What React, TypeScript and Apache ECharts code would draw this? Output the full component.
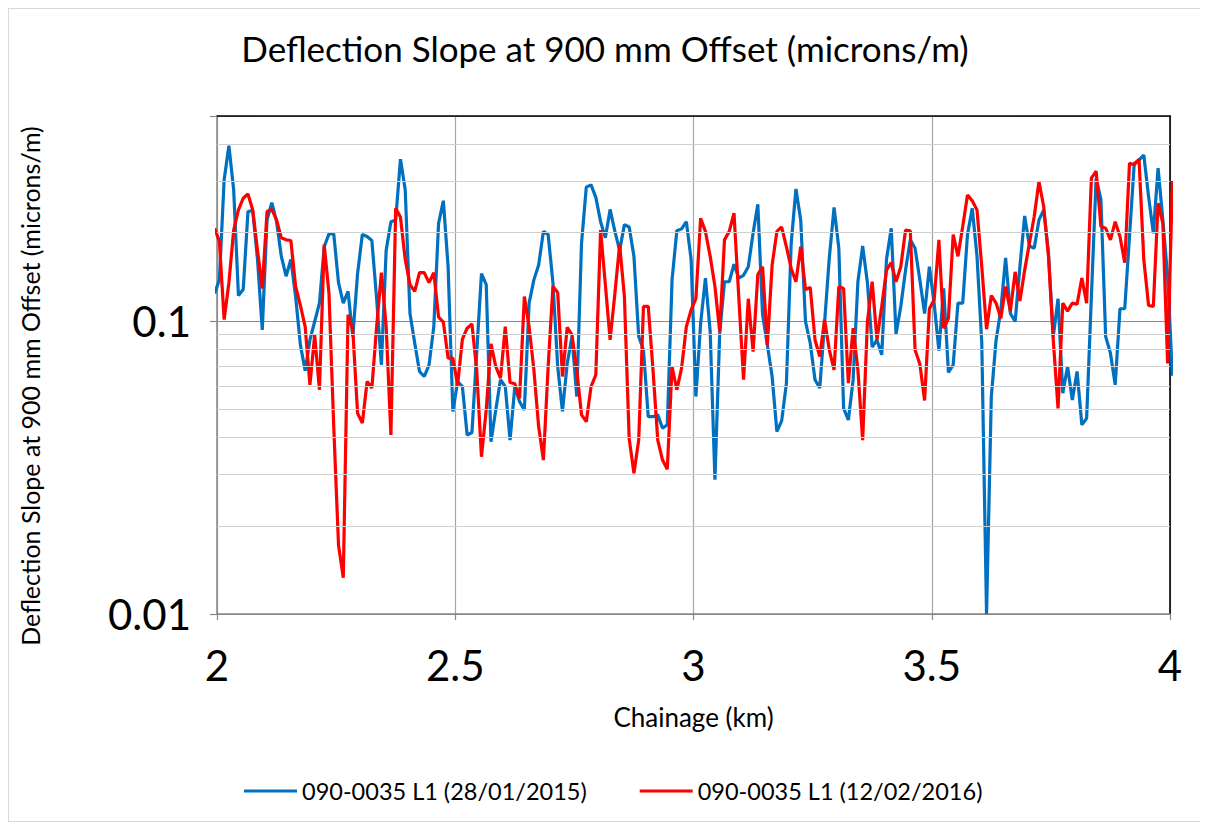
import React, { useEffect, useRef } from "react";
import * as echarts from "echarts";

const TITLE = "Deflection Slope at 900 mm Offset (microns/m)";
const Y_NAME = "Deflection Slope at 900 mm Offset (microns/m)";
const X_NAME = "Chainage (km)";
const SERIES_NAMES = ["090-0035 L1 (28/01/2015)", "090-0035 L1 (12/02/2016)"];

const X_MIN = 2;
const X_MAX = 4;
const X_INTERVAL = 0.5;
const Y_MIN = 0.01;
const Y_MAX = 0.5;
const yTickLabels = [0.01, 0.1];
const minorGridValues = [0.02, 0.03, 0.04, 0.05, 0.06, 0.07, 0.08, 0.09, 0.2, 0.3, 0.4];

// survey stations every 10 m (first and last fall just outside the plotted range)
const chainageStart = 1.995;
const chainageStep = 0.01;

const survey2015 = [
  0.124, 0.138, 0.303, 0.396, 0.280, 0.122, 0.128, 0.236, 0.238, 0.162,
  0.0932, 0.221, 0.253, 0.218, 0.166, 0.142, 0.162, 0.121, 0.0828, 0.0676,
  0.0861, 0.0995, 0.115, 0.179, 0.198, 0.198, 0.135, 0.115, 0.126, 0.0884,
  0.145, 0.197, 0.194, 0.188, 0.119, 0.0708, 0.174, 0.218, 0.221, 0.356,
  0.280, 0.106, 0.0839, 0.0672, 0.0646, 0.0708, 0.0956, 0.215, 0.257, 0.153,
  0.0491, 0.0621, 0.0597, 0.0408, 0.0416, 0.0776, 0.145, 0.133, 0.0387, 0.0497,
  0.0630, 0.0597, 0.0392, 0.0597, 0.0530, 0.0497, 0.115, 0.138, 0.155, 0.202,
  0.197, 0.135, 0.0699, 0.0491, 0.0716, 0.0884, 0.0552, 0.184, 0.286, 0.291,
  0.264, 0.218, 0.192, 0.240, 0.202, 0.174, 0.213, 0.209, 0.166, 0.0884,
  0.0796, 0.0471, 0.0471, 0.0478, 0.0430, 0.0442, 0.138, 0.203, 0.206, 0.218,
  0.162, 0.0552, 0.0982, 0.140, 0.0920, 0.0287, 0.0908, 0.136, 0.136, 0.156,
  0.140, 0.143, 0.153, 0.199, 0.250, 0.105, 0.0828, 0.0646, 0.0419, 0.0456,
  0.0613, 0.184, 0.282, 0.221, 0.0995, 0.0839, 0.0630, 0.0590, 0.0982, 0.164,
  0.244, 0.177, 0.0503, 0.0459, 0.0630, 0.136, 0.180, 0.135, 0.0813, 0.0861,
  0.0766, 0.162, 0.207, 0.0903, 0.112, 0.149, 0.189, 0.177, 0.138, 0.106,
  0.153, 0.115, 0.0792, 0.129, 0.0667, 0.0708, 0.115, 0.115, 0.197, 0.242,
  0.166, 0.0839, 0.0100, 0.0552, 0.0861, 0.109, 0.164, 0.106, 0.0995, 0.153,
  0.228, 0.180, 0.177, 0.221, 0.239, 0.170, 0.0884, 0.119, 0.0567, 0.0699,
  0.0537, 0.0672, 0.0442, 0.0465, 0.121, 0.307, 0.260, 0.0884, 0.0776, 0.0605,
  0.110, 0.110, 0.194, 0.345, 0.354, 0.368, 0.266, 0.199, 0.332, 0.221,
  0.142, 0.065,
];

const survey2016 = [
  0.207, 0.187, 0.101, 0.135, 0.204, 0.239, 0.262, 0.271, 0.239, 0.174,
  0.129, 0.236, 0.240, 0.221, 0.192, 0.189, 0.188, 0.131, 0.113, 0.0956,
  0.0605, 0.0896, 0.0582, 0.182, 0.124, 0.0436, 0.0172, 0.0133, 0.105, 0.0932,
  0.0484, 0.0448, 0.0621, 0.0590, 0.0956, 0.146, 0.0956, 0.0408, 0.242, 0.226,
  0.162, 0.133, 0.126, 0.146, 0.146, 0.135, 0.146, 0.103, 0.0990, 0.0746,
  0.0746, 0.0605, 0.0866, 0.0944, 0.0977, 0.0681, 0.0344, 0.0497, 0.0835, 0.0699,
  0.0638, 0.0956, 0.0616, 0.0610, 0.0545, 0.121, 0.0956, 0.0681, 0.0436, 0.0335,
  0.0699, 0.131, 0.125, 0.0646, 0.0951, 0.0896, 0.0681, 0.0478, 0.0453, 0.0597,
  0.0655, 0.204, 0.133, 0.0861, 0.124, 0.182, 0.121, 0.0397, 0.0302, 0.0392,
  0.112, 0.112, 0.0681, 0.0392, 0.0335, 0.0312, 0.0699, 0.0582, 0.0690, 0.0956,
  0.109, 0.119, 0.224, 0.202, 0.166, 0.131, 0.0920, 0.189, 0.202, 0.233,
  0.121, 0.0630, 0.119, 0.0786, 0.144, 0.153, 0.0828, 0.155, 0.202, 0.209,
  0.179, 0.151, 0.136, 0.179, 0.128, 0.130, 0.0861, 0.0756, 0.101, 0.0796,
  0.0681, 0.131, 0.129, 0.0613, 0.0944, 0.0681, 0.0392, 0.0995, 0.136, 0.0861,
  0.112, 0.149, 0.158, 0.136, 0.153, 0.204, 0.203, 0.0796, 0.0713, 0.0535,
  0.110, 0.118, 0.189, 0.0944, 0.102, 0.197, 0.166, 0.210, 0.269, 0.257,
  0.239, 0.153, 0.0937, 0.122, 0.115, 0.102, 0.131, 0.108, 0.147, 0.117,
  0.149, 0.184, 0.227, 0.299, 0.245, 0.166, 0.0861, 0.0503, 0.115, 0.108,
  0.115, 0.114, 0.140, 0.115, 0.307, 0.324, 0.210, 0.207, 0.189, 0.218,
  0.194, 0.158, 0.345, 0.341, 0.356, 0.162, 0.113, 0.112, 0.252, 0.215,
  0.0716, 0.30,
];

const FONT = "Lato, 'Open Sans', sans-serif";

function toPoints(values: number[]) {
  return values.map((v, i) => [Number((chainageStart + i * chainageStep).toFixed(3)), v]);
}

export default function App() {
  const ref = useRef<HTMLDivElement>(null);

  useEffect(() => {
    if (!ref.current) return;
    const chart = echarts.init(ref.current, null, { renderer: "svg" });

    const option: any = {
      animation: false,
      backgroundColor: "#ffffff",
      title: {
        text: TITLE,
        left: "center",
        top: 16,
        textStyle: { fontFamily: FONT, fontSize: 35, fontWeight: "normal", color: "#000000" },
      },
      legend: {
        data: SERIES_NAMES,
        left: 230,
        top: 765,
        icon: "rect",
        itemWidth: 53,
        itemHeight: 3,
        itemGap: 53,
        textStyle: { fontFamily: FONT, fontSize: 23.5, color: "#000000" },
      },
      grid: { left: 208, top: 107, width: 953, height: 498, show: false },
      xAxis: [
        {
          type: "value",
          min: X_MIN,
          max: X_MAX,
          interval: X_INTERVAL,
          name: X_NAME,
          nameLocation: "middle",
          nameGap: 90,
          nameTextStyle: { fontFamily: FONT, fontSize: 26, color: "#000000" },
          axisLine: { show: true, onZero: false, lineStyle: { color: "#868686", width: 1.5 } },
          axisTick: { show: true, length: 6, lineStyle: { color: "#868686", width: 1.2 } },
          axisLabel: { fontFamily: FONT, fontSize: 42, color: "#000000", margin: 30 },
          splitLine: { show: true, lineStyle: { color: "#a6a6a6", width: 1.2 } },
        },
        {
          type: "value",
          position: "top",
          min: X_MIN,
          max: X_MAX,
          interval: X_INTERVAL,
          axisLine: { show: true, onZero: false, lineStyle: { color: "#000000", width: 1.6 } },
          axisTick: { show: false },
          axisLabel: { show: false },
          splitLine: { show: false },
        },
      ],
      yAxis: [
        {
          type: "log",
          logBase: 10,
          min: Y_MIN,
          max: Y_MAX,
          axisLine: { show: true, onZero: false, lineStyle: { color: "#868686", width: 1.5 } },
          axisTick: { show: true, length: 7, lineStyle: { color: "#868686", width: 1.2 } },
          axisLabel: {
            fontFamily: FONT,
            fontSize: 42,
            color: "#000000",
            margin: 26,
            formatter: (v: number) => {
              const t = yTickLabels.find((x) => Math.abs(x - v) / x < 1e-6);
              return t === undefined ? "" : String(t);
            },
          },
          splitLine: { show: true, lineStyle: { color: "#8c8c8c", width: 1.2 } },
        },
        {
          type: "log",
          logBase: 10,
          position: "right",
          min: Y_MIN,
          max: Y_MAX,
          axisLine: { show: true, onZero: false, lineStyle: { color: "#000000", width: 1.6 } },
          axisTick: { show: false },
          axisLabel: { show: false },
          splitLine: { show: false },
        },
      ],
      graphic: [
        {
          type: "text",
          x: 21,
          y: 377,
          rotation: Math.PI / 2,
          silent: true,
          style: {
            text: Y_NAME,
            fontFamily: FONT,
            fontSize: 25,
            fill: "#000000",
            align: "center",
            verticalAlign: "middle",
            textAlign: "center",
            textVerticalAlign: "middle",
          },
        },
      ],
      series: [
        {
          type: "line",
          name: "minor-grid",
          data: [[X_MIN, 0.1]],
          symbol: "none",
          silent: true,
          z: 1,
          lineStyle: { opacity: 0 },
          markLine: {
            silent: true,
            symbol: ["none", "none"],
            label: { show: false },
            emphasis: { disabled: true },
            animation: false,
            lineStyle: { color: "#d0d0d0", width: 1.2, type: "solid" },
            data: minorGridValues.map((v) => ({ yAxis: v })),
          },
        },
        {
          type: "line",
          name: SERIES_NAMES[0],
          data: toPoints(survey2015),
          symbol: "none",
          z: 3,
          lineStyle: { color: "#0070C0", width: 3.2 },
          itemStyle: { color: "#0070C0" },
        },
        {
          type: "line",
          name: SERIES_NAMES[1],
          data: toPoints(survey2016),
          symbol: "none",
          z: 4,
          lineStyle: { color: "#FF0000", width: 3.2 },
          itemStyle: { color: "#FF0000" },
        },
      ],
    };

    chart.setOption(option);
    return () => chart.dispose();
  }, []);

  return (
    <div
      ref={ref}
      style={{ width: 1192, height: 812, border: "1px solid #d9d9d9", background: "#ffffff" }}
    />
  );
}
